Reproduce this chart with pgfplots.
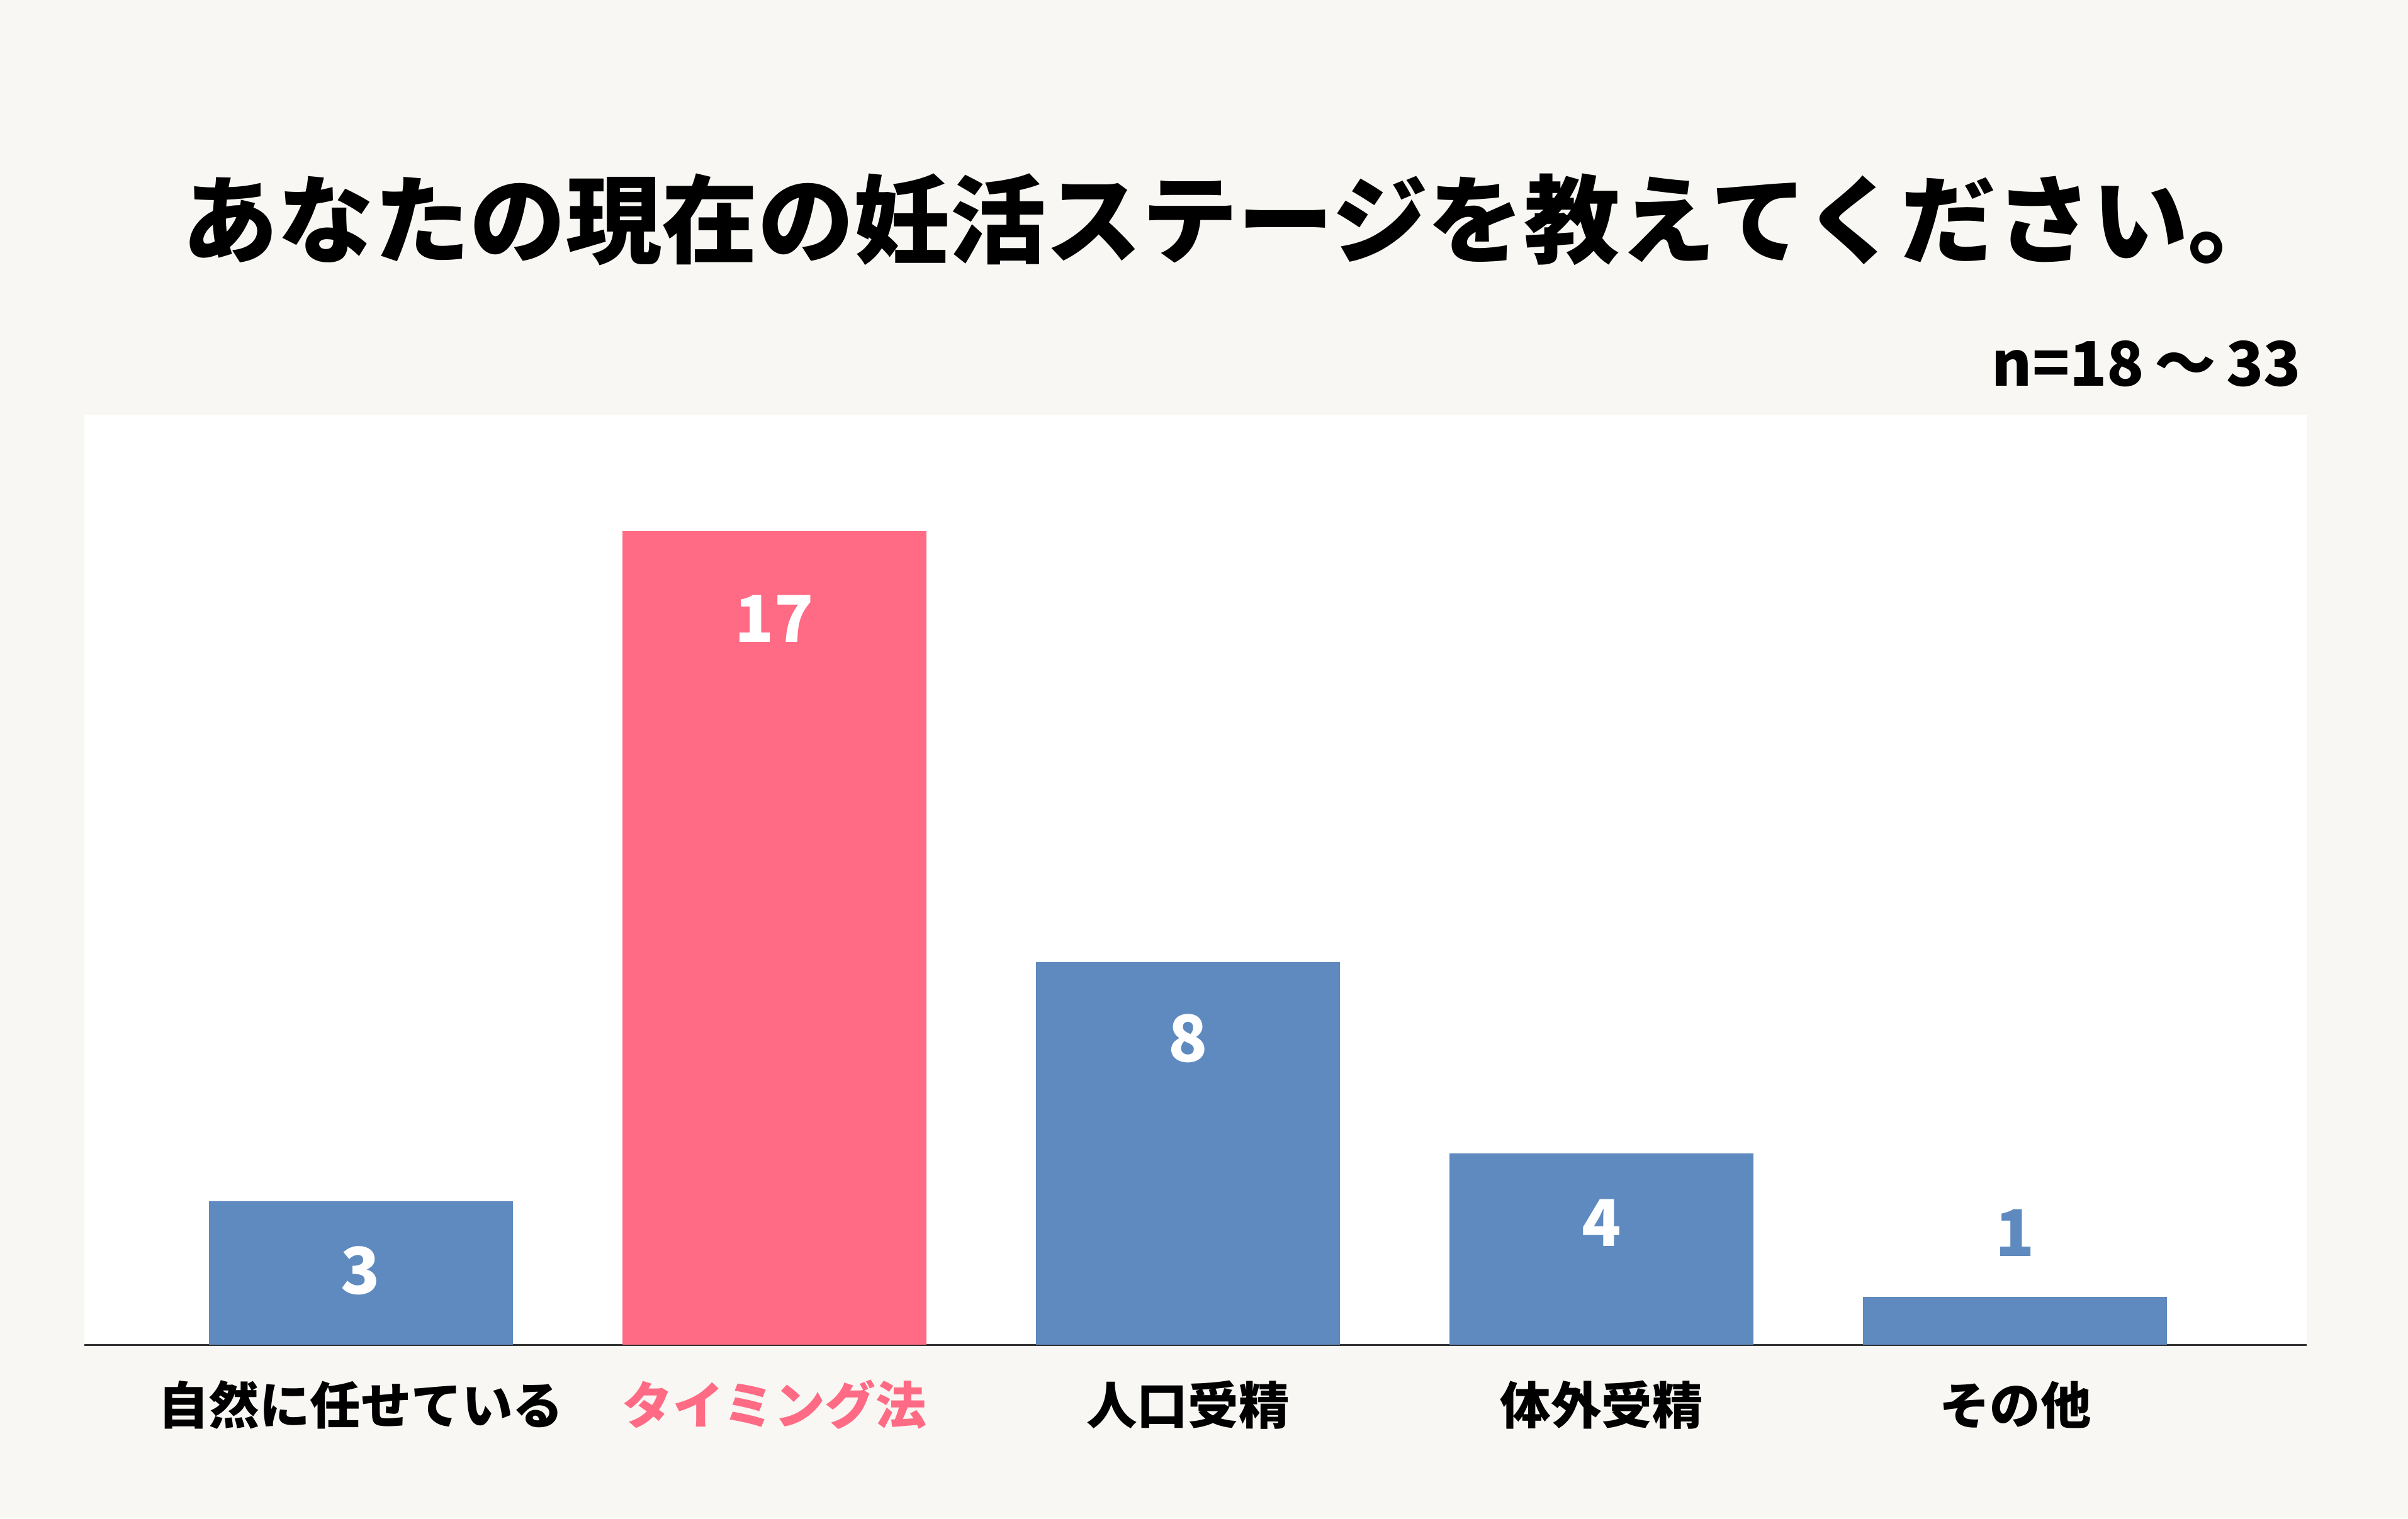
\documentclass[border=0pt]{standalone}
\usepackage{pgfplots}
\pgfplotsset{compat=1.18}
\usepackage{fontspec}
\setmainfont{Noto Sans CJK JP}
\definecolor{bgc}{HTML}{F8F7F3}
\definecolor{bluec}{HTML}{5E8ABF}
\definecolor{pinkc}{HTML}{FF6B84}
\definecolor{axc}{HTML}{333333}
\begin{document}
\begin{tikzpicture}[x=1pt,y=1pt]
\fill[bgc] (0,0) rectangle (1568,989);
\node[font=\fontsize{62.5}{68}\selectfont\bfseries] at (803,846) {あなたの現在の妊活ステージを教えてください。};
\node[anchor=east,font=\fontsize{40}{46}\selectfont\bfseries] at (1502,752) {n=18\,〜\,33};
\begin{axis}[
  at={(55pt,113pt)}, anchor=south west,
  scale only axis, width=1447pt, height=606pt,
  xmin=-0.668, xmax=4.705, ymin=0, ymax=19.43,
  axis background/.style={fill=white},
  axis y line=none, axis x line*=bottom,
  x axis line style={-, axc, line width=1.2pt},
  ybar, bar width=198pt, bar shift=0pt,
  xtick={0,1,2,3,4}, major tick length=0pt,
  xticklabels={自然に任せている,\textcolor{pinkc}{タイミング法},人口受精,体外受精,その他},
  xticklabel style={anchor=center, yshift=-39pt, font=\fontsize{33}{38}\selectfont\bfseries},
  /pgf/number format/assume math mode=true,
  nodes near coords,
  nodes near coords style={font=\fontsize{42}{48}\selectfont\bfseries, anchor=center},
]
\addplot[fill=bluec, draw=none, nodes near coords style={white, yshift=-45pt}] coordinates {(0,3)};
\addplot[fill=pinkc, draw=none, nodes near coords style={white, yshift=-57pt}] coordinates {(1,17)};
\addplot[fill=bluec, draw=none, nodes near coords style={white, yshift=-50pt}] coordinates {(2,8)};
\addplot[fill=bluec, draw=none, nodes near coords style={white, yshift=-45pt}] coordinates {(3,4)};
\addplot[fill=bluec, draw=none, nodes near coords style={bluec, yshift=42pt}] coordinates {(4,1)};
\end{axis}
\end{tikzpicture}
\end{document}
